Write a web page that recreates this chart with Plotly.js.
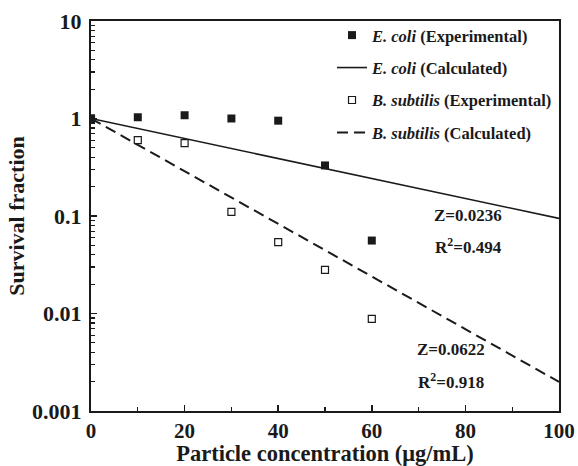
<!DOCTYPE html>
<html>
<head>
<meta charset="utf-8">
<script src="https://cdn.plot.ly/plotly-3.0.1.min.js"></script>
<style>html,body{margin:0;padding:0;background:#fff;}#chart{width:578px;height:466px;}</style>
</head>
<body>
<div id="chart"></div>
<script>
// Particle concentration (ug/mL)
const conc = [0, 10, 20, 30, 40, 50, 60];
const ecoliExp = [1.0, 1.03, 1.08, 1.0, 0.95, 0.33, 0.056];
const bsubExp = [1.0, 0.60, 0.56, 0.11, 0.054, 0.028, 0.0088];
// Calculated (fit) lines: straight on log scale, read at ends
const fitX = [0, 100];
const ecoliCalc = [1.0, 0.0944];
const bsubCalc = [1.0, 0.00199];
const yTickVals = [0.001, 0.01, 0.1, 1, 10];
const yTickText = ['0.001', '0.01', '0.1', '1', '10'];
const xTickVals = [0, 20, 40, 60, 80, 100];
const ecoliZ = 'Z=0.0236', ecoliR2 = 'R<sup>2</sup>=0.494';
const bsubZ = 'Z=0.0622', bsubR2 = 'R<sup>2</sup>=0.918';

const serif = 'Liberation Serif, Times New Roman, serif';
const ink = '#1a1a1a';

const yMinor = [];
[0.001, 0.01, 0.1, 1].forEach(d => { for (let k = 2; k <= 9; k++) yMinor.push(d * k); });

const traces = [
  {x: conc, y: ecoliExp, mode: 'markers', name: '<i>E. coli</i> (Experimental)',
   marker: {symbol: 'square', size: 8, color: ink}, legendgroup: 'a'},
  {x: fitX, y: ecoliCalc, mode: 'lines', name: '<i>E. coli</i> (Calculated)',
   line: {color: ink, width: 1.6}, legendgroup: 'b'},
  {x: conc, y: bsubExp, mode: 'markers', name: '<i>B. subtilis</i> (Experimental)',
   marker: {symbol: 'square-open', size: 7, color: ink, line: {width: 1.2, color: ink}}, legendgroup: 'c'},
  {x: fitX, y: bsubCalc, mode: 'lines', name: '<i>B. subtilis</i> (Calculated)',
   line: {color: ink, width: 2, dash: '11px,6px'}, legendgroup: 'd'}
];

const annFont = {family: serif, size: 17, color: ink, weight: 'bold'};
const layout = {
  width: 578, height: 466,
  margin: {l: 91, r: 19, t: 21, b: 55},
  paper_bgcolor: '#fff', plot_bgcolor: '#fff',
  font: {family: serif, color: ink, weight: 'bold'},
  showlegend: true,
  legend: {x: 0.515, y: 1.008, xanchor: 'left', yanchor: 'top', bgcolor: 'rgba(0,0,0,0)',
           font: {family: serif, size: 16.5, color: ink, weight: 'bold'},
           traceorder: 'grouped', tracegroupgap: 8},
  xaxis: {
    range: [0, 100], tickvals: xTickVals, ticks: 'inside', ticklen: 6, tickwidth: 1.5, tickcolor: ink,
    showline: true, linewidth: 2, linecolor: ink, mirror: true, showgrid: false, zeroline: false,
    tickfont: {family: serif, size: 21, color: ink, weight: 'bold'},
    minor: {tickvals: [10, 30, 50, 70, 90], ticks: 'inside', ticklen: 4, tickwidth: 1.2, tickcolor: ink, showgrid: false},
    title: {text: 'Particle concentration (\u03bcg/mL)', font: {family: serif, size: 22.5, color: ink, weight: 'bold'}, standoff: 6}
  },
  yaxis: {
    type: 'log', range: [-3, 1], tickvals: yTickVals, ticktext: yTickText,
    ticks: 'inside', ticklen: 6, tickwidth: 1.5, tickcolor: ink, ticklabelstandoff: 3,
    showline: true, linewidth: 2, linecolor: ink, mirror: true, showgrid: false, zeroline: false,
    tickfont: {family: serif, size: 22, color: ink, weight: 'bold'},
    minor: {tickvals: yMinor, ticks: 'inside', ticklen: 4, tickwidth: 1.2, tickcolor: ink, showgrid: false},
    title: {text: 'Survival fraction', font: {family: serif, size: 22, color: ink, weight: 'bold'}, standoff: 1}
  },
  annotations: [
    {x: 80.6, y: -0.99, xref: 'x', yref: 'y', text: ecoliZ, showarrow: false, font: annFont},
    {x: 80.6, y: -1.31, xref: 'x', yref: 'y', text: ecoliR2, showarrow: false, font: annFont},
    {x: 77.0, y: -2.365, xref: 'x', yref: 'y', text: bsubZ, showarrow: false, font: annFont},
    {x: 77.0, y: -2.69, xref: 'x', yref: 'y', text: bsubR2, showarrow: false, font: annFont}
  ]
};

Plotly.newPlot('chart', traces, layout, {displayModeBar: false, staticPlot: true});
</script>
</body>
</html>
